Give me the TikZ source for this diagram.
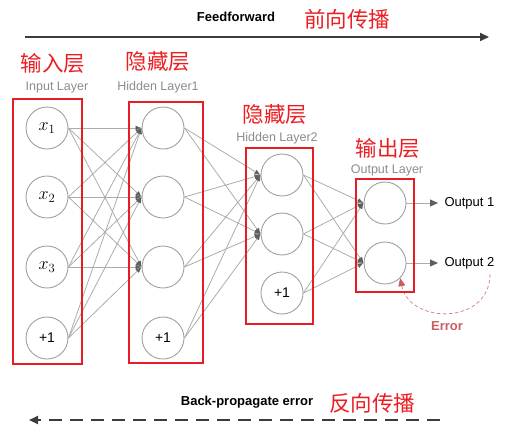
\RequirePackage{fix-cm}
\documentclass[tikz,border=0pt]{standalone}
\usepackage[no-math]{fontspec}
\setmainfont{Liberation Sans}
\newfontfamily\cjk{Noto Sans CJK SC}
\usetikzlibrary{arrows.meta}

\definecolor{boxred}{RGB}{232,28,36}
\definecolor{cnred}{RGB}{235,30,35}
\definecolor{circgray}{RGB}{160,160,160}
\definecolor{linkgray}{RGB}{172,172,172}
\definecolor{headgray}{RGB}{95,95,95}
\definecolor{labgray}{RGB}{140,140,140}
\definecolor{flowgray}{RGB}{60,60,60}
\definecolor{errred}{RGB}{200,95,95}

\tikzset{
  neuron/.style={circle, draw=circgray, line width=0.9pt, minimum size=42pt, inner sep=0pt, font=\fontsize{14}{14}\selectfont},
  inneuron/.style={neuron, font=\fontsize{18}{18}\selectfont},
  layerbox/.style={draw=boxred, line width=2pt},
  cnlabel/.style={text=cnred, font=\cjk\fontsize{21.5}{22}\selectfont},
  enlabel/.style={text=labgray, font=\fontsize{12.5}{13}\selectfont},
  link/.style={draw=linkgray, line width=0.8pt, -{Latex[length=6pt,width=5pt,color=headgray]}},
  outlink/.style={draw=linkgray, line width=1pt, shorten >=3pt, -{Triangle[length=8pt,width=7pt,color=headgray]}},
  flowarrow/.style={draw=flowgray, line width=2pt, -{Triangle[length=9pt,width=8pt]}},
}

\begin{document}
\begin{tikzpicture}[x=1pt, y=-1pt]
		%%%%% START %%%%%
		\useasboundingbox (0, 0) rectangle (529, 434);
		
		% feedforward
		\node[font=\bfseries\fontsize{13}{13}\selectfont] (fftext) at (236, 17) {Feedforward};
		\node[cnlabel] (ffcn) at (347, 19) {前向传播};
		\coordinate (ffstart) at (25, 37);
		\coordinate (ffend) at (489, 37);
		\draw[flowarrow] (ffstart) -- (ffend);
		
		% layer titles
		\node[cnlabel] (incn) at (53, 63) {输入层};
		\node[enlabel] (inen) at (57, 87) {Input Layer};
		\node[cnlabel] (hacn) at (158, 61) {隐藏层};
		\node[enlabel] (haen) at (158, 87) {Hidden Layer1};
		\node[cnlabel] (hbcn) at (275, 114) {隐藏层};
		\node[enlabel] (hben) at (277, 138) {Hidden Layer2};
		\node[cnlabel] (outcn) at (388, 148) {输出层};
		\node[enlabel] (outen) at (387, 170) {Output Layer};
		
		% input layer
		\node[inneuron] (in1) at (47, 128) {$x_1$};
		\node[inneuron] (in2) at (47, 197) {$x_2$};
		\node[inneuron] (in3) at (47, 267) {$x_3$};
		\node[neuron] (inb) at (47, 338) {+1};
		
		% hidden layer 1
		\node[neuron] (ha1) at (163, 128) {};
		\node[neuron] (ha2) at (163, 197) {};
		\node[neuron] (ha3) at (163, 267) {};
		\node[neuron] (hab) at (163, 338) {+1};
		
		% hidden layer 2
		\node[neuron] (hb1) at (282, 175) {};
		\node[neuron] (hb2) at (282, 234) {};
		\node[neuron] (hbb) at (282, 293) {+1};
		
		% output layer
		\node[neuron] (out1) at (385, 203) {};
		\node[neuron] (out2) at (385, 263) {};
		
		% input -> hidden 1
		\draw[link] (in1.east) -- (ha1.west);
		\draw[link] (in1.east) -- (ha2.west);
		\draw[link] (in1.east) -- (ha3.west);
		\draw[link] (in2.east) -- (ha1.west);
		\draw[link] (in2.east) -- (ha2.west);
		\draw[link] (in2.east) -- (ha3.west);
		\draw[link] (in3.east) -- (ha1.west);
		\draw[link] (in3.east) -- (ha2.west);
		\draw[link] (in3.east) -- (ha3.west);
		\draw[link] (inb.east) -- (ha1.west);
		\draw[link] (inb.east) -- (ha2.west);
		\draw[link] (inb.east) -- (ha3.west);
		
		% hidden 1 -> hidden 2
		\draw[link] (ha1.east) -- (hb1.west);
		\draw[link] (ha1.east) -- (hb2.west);
		\draw[link] (ha2.east) -- (hb1.west);
		\draw[link] (ha2.east) -- (hb2.west);
		\draw[link] (ha3.east) -- (hb1.west);
		\draw[link] (ha3.east) -- (hb2.west);
		\draw[link] (hab.east) -- (hb1.west);
		\draw[link] (hab.east) -- (hb2.west);
		
		% hidden 2 -> output
		\draw[link] (hb1.east) -- (out1.west);
		\draw[link] (hb1.east) -- (out2.west);
		\draw[link] (hb2.east) -- (out1.west);
		\draw[link] (hb2.east) -- (out2.west);
		\draw[link] (hbb.east) -- (out1.west);
		\draw[link] (hbb.east) -- (out2.west);
		
		% outputs
		\node[anchor=west, font=\fontsize{13}{13}\selectfont] (res1) at (441, 203) {Output 1};
		\node[anchor=west, font=\fontsize{13}{13}\selectfont] (res2) at (441, 263) {Output 2};
		\draw[outlink] (out1.east) -- (res1.west);
		\draw[outlink] (out2.east) -- (res2.west);
		
		% error loop
		\coordinate (errstart) at (490, 274);
		\draw[errred!75, line width=0.8pt, dash pattern=on 3.5pt off 2.5pt, -{Triangle[length=8pt,width=7pt,color=errred]}] (errstart) .. controls (490, 325) and (410, 325) .. (out2.south east);
		\node[text=errred, font=\bfseries\fontsize{13}{13}\selectfont] (errtext) at (447, 326) {Error};
		
		% layer boxes
		\draw[layerbox] (13, 99) rectangle (82, 364);
		\draw[layerbox] (129, 102) rectangle (203, 363);
		\draw[layerbox] (246, 148) rectangle (313, 324);
		\draw[layerbox] (356, 179) rectangle (414, 292);
		
		% back-propagation
		\node[font=\bfseries\fontsize{13}{13}\selectfont] (bptext) at (247, 402) {Back-propagate error};
		\node[cnlabel] (bpcn) at (372, 403) {反向传播};
		\coordinate (bpstart) at (440, 420);
		\coordinate (bpend) at (29, 420);
		\draw[flowarrow, dash pattern=on 13pt off 8pt] (bpstart) -- (bpend);
		
		%%%%% END %%%%%
	\end{tikzpicture}
\end{document}
